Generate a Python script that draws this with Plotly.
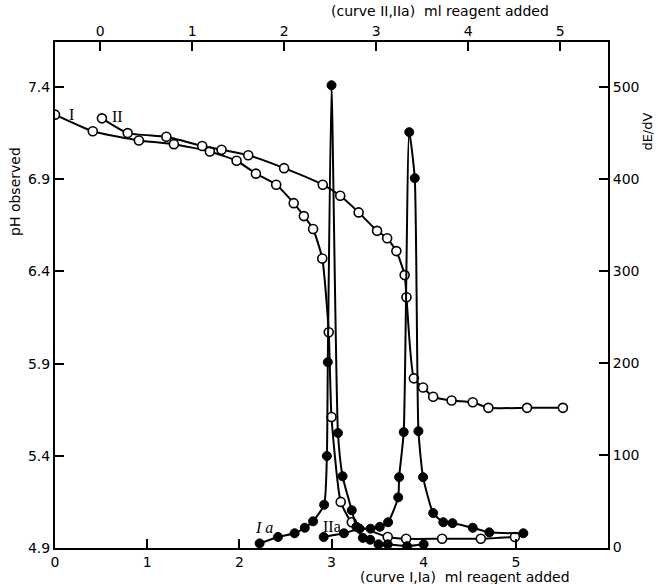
import plotly.graph_objects as go

# Curve I: pH vs ml reagent (bottom axis)
x_I = [0.0, 0.41, 0.91, 1.29, 1.68, 1.97, 2.18, 2.40, 2.59, 2.70, 2.80, 2.90,
       2.97, 3.00, 3.10, 3.22, 3.61, 3.81, 4.20, 4.62, 4.99]
ph_I = [7.25, 7.16, 7.11, 7.09, 7.05, 7.00, 6.93, 6.87, 6.77, 6.70, 6.63, 6.47,
        6.07, 5.61, 5.15, 5.04, 4.96, 4.95, 4.95, 4.95, 4.96]

# Curve II: pH vs ml reagent (top axis)
x_II = [0.02, 0.30, 0.72, 1.11, 1.32, 1.61, 2.00, 2.42, 2.61, 2.81, 3.01, 3.12,
        3.22, 3.31, 3.33, 3.41, 3.51, 3.62, 3.82, 4.05, 4.22, 4.64, 5.03]
ph_II = [7.23, 7.15, 7.13, 7.08, 7.06, 7.03, 6.96, 6.87, 6.81, 6.72, 6.62, 6.58,
         6.51, 6.38, 6.26, 5.82, 5.77, 5.72, 5.70, 5.69, 5.66, 5.66, 5.66]

# Curve Ia: dE/dV vs ml reagent (bottom axis)
x_Ia = [2.22, 2.42, 2.60, 2.71, 2.80, 2.92, 2.95, 2.96, 3.00, 3.07, 3.12, 3.22,
        3.27, 3.34, 3.42, 3.51, 3.61, 3.82, 4.00]
d_Ia = [4, 11, 15, 21, 28, 46, 99, 201, 502, 124, 77, 40, 22, 10, 8, 3, 3, 1, 3]

# Curve IIa: dE/dV vs ml reagent (top axis)
x_IIa = [2.43, 2.65, 2.82, 2.94, 3.04, 3.13, 3.24, 3.25, 3.30, 3.36, 3.42, 3.46,
         3.51, 3.62, 3.73, 3.83, 4.05, 4.23, 4.60]
d_IIa = [11, 15, 20, 20, 22, 27, 54, 76, 125, 451, 401, 126, 76, 37, 27, 26, 21, 16, 15]

bottom_ticks = [0, 1, 2, 3, 4, 5]
top_ticks = [0, 1, 2, 3, 4, 5]
ph_ticks = [4.9, 5.4, 5.9, 6.4, 6.9, 7.4]
dedv_ticks = [0, 100, 200, 300, 400, 500]

FONT = "DejaVu Sans"
open_marker = dict(symbol="circle", size=9, color="white", line=dict(color="black", width=1.6))
filled_marker = dict(symbol="circle", size=9, color="black", line=dict(color="black", width=1))
line_style = dict(color="black", width=2, shape="spline", smoothing=0.5)

fig = go.Figure()
fig.add_trace(go.Scatter(x=x_I, y=ph_I, mode="lines+markers", marker=open_marker,
                         line=line_style, xaxis="x", yaxis="y", name="I"))
fig.add_trace(go.Scatter(x=x_II, y=ph_II, mode="lines+markers", marker=open_marker,
                         line=line_style, xaxis="x2", yaxis="y", name="II"))
fig.add_trace(go.Scatter(x=x_Ia, y=d_Ia, mode="lines+markers", marker=filled_marker,
                         line=line_style, xaxis="x", yaxis="y2", name="Ia"))
fig.add_trace(go.Scatter(x=x_IIa, y=d_IIa, mode="lines+markers", marker=filled_marker,
                         line=line_style, xaxis="x2", yaxis="y2", name="IIa"))

axis_common = dict(showgrid=False, zeroline=False, showline=True, linecolor="black",
                   linewidth=2, ticks="inside", ticklen=9, tickwidth=1.5, tickcolor="black",
                   tickfont=dict(family=FONT, size=14, color="black"))

fig.update_layout(
    width=658, height=584,
    margin=dict(l=55, r=50, t=42, b=36),
    paper_bgcolor="white", plot_bgcolor="white",
    showlegend=False,
    xaxis=dict(range=[0, 6.0], tickvals=bottom_ticks, ticktext=[str(v) for v in bottom_ticks],
               **axis_common),
    xaxis2=dict(range=[-0.49, 5.52], tickvals=top_ticks, ticktext=[str(v) for v in top_ticks],
                overlaying="x", side="top", ticklabelstandoff=-2, **axis_common),
    yaxis=dict(range=[4.9, 7.644], tickvals=ph_ticks, ticktext=[f"{v:.1f}" for v in ph_ticks],
               **axis_common),
    yaxis2=dict(range=[-1, 549], tickvals=dedv_ticks, ticktext=[str(v) for v in dedv_ticks],
                overlaying="y", side="right", **axis_common),
)

serif = dict(family="Liberation Serif", size=16, color="black")
fig.add_annotation(text="I", x=0.18, y=7.25, xref="x", yref="y", showarrow=False, font=serif)
fig.add_annotation(text="II", x=0.19, y=7.24, xref="x2", yref="y", showarrow=False, font=serif)
fig.add_annotation(text="<i>I a</i>", x=2.27, y=21, xref="x", yref="y2", showarrow=False, font=serif)
fig.add_annotation(text="IIa", x=3.0, y=22, xref="x", yref="y2", showarrow=False, font=serif)

title_font = dict(family=FONT, size=14, color="black")
fig.add_annotation(text="(curve II,IIa)  ml reagent added", x=0.696, y=1.062, xref="paper",
                   yref="paper", showarrow=False, xanchor="center", yanchor="middle",
                   font=title_font)
fig.add_annotation(text="(curve I,Ia)  ml reagent added", x=0.741, y=-0.058, xref="paper",
                   yref="paper", showarrow=False, xanchor="center", yanchor="middle",
                   font=title_font)
fig.add_annotation(text="pH observed", x=-0.072, y=0.704, xref="paper", yref="paper",
                   showarrow=False, textangle=-90, xanchor="center", yanchor="middle",
                   font=title_font)
fig.add_annotation(text="dE/dV", x=1.0715, y=0.822, xref="paper", yref="paper",
                   showarrow=False, textangle=-90, xanchor="center", yanchor="middle",
                   font=dict(family=FONT, size=13, color="black"))

fig.write_html("out.html")
